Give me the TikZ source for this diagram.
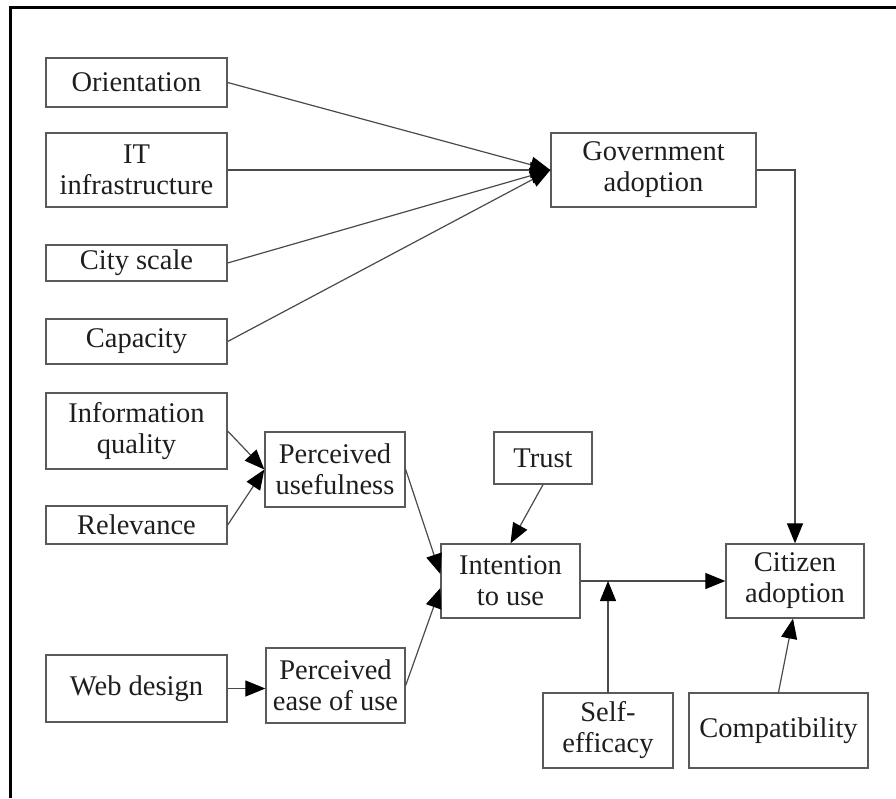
\documentclass[tikz,border=0pt]{standalone}
\usepackage{fontspec}
\setmainfont{Liberation Serif}
\usetikzlibrary{arrows.meta}
\definecolor{boxline}{HTML}{5A5A5A}
\definecolor{linkline}{HTML}{4A4A4A}
\definecolor{ink}{HTML}{1E1E1E}
\begin{document}
\begin{tikzpicture}[x=1pt,y=-1pt,
  box/.style={draw=boxline,line width=1.3pt,rectangle,inner sep=0pt,align=center,
    text=ink,font=\fontsize{28.5}{31}\selectfont},
  link/.style={draw=linkline,line width=1.2pt,
    -{Triangle[length=20pt,width=16pt,color=black]}},
  plain/.style={draw=linkline,line width=1.2pt}]
\useasboundingbox (0,0) rectangle (896,798);
% outer frame (top and left edges)
\draw[line width=3pt] (10,798) -- (10,7) -- (896,7);

% government-side factors
\node[box,minimum width=181pt,minimum height=49pt] (ori) at (136.5,82.5) {Orientation};
\node[box,minimum width=181pt,minimum height=74pt] (itinf) at (136.5,170) {IT\\infrastructure};
\node[box,minimum width=181pt,minimum height=36pt] (city) at (136.5,263) {City scale};
\node[box,minimum width=181pt,minimum height=45pt] (cap) at (136.5,341.5) {Capacity};
\node[box,minimum width=205pt,minimum height=74pt] (gov) at (653.5,170) {Government\\adoption};

% citizen-side factors
\node[box,minimum width=181pt,minimum height=76pt] (iq) at (136.5,431) {Information\\quality};
\node[box,minimum width=181pt,minimum height=38pt] (rel) at (136.5,525) {Relevance};
\node[box,minimum width=140pt,minimum height=75pt] (pu) at (335,469.5) {Perceived\\usefulness};
\node[box,minimum width=181pt,minimum height=67pt] (web) at (136.5,688.5) {Web design};
\node[box,minimum width=139pt,minimum height=75pt] (peu) at (335.5,685.5) {Perceived\\ease of use};
\node[box,minimum width=139pt,minimum height=74pt] (int) at (510.5,581) {Intention\\to use};
\node[box,minimum width=98pt,minimum height=52pt] (trust) at (543,458) {Trust};
\node[box,minimum width=138pt,minimum height=74pt] (cit) at (795,581) {Citizen\\adoption};
\node[box,minimum width=130pt,minimum height=75pt] (self) at (608,730.5) {Self-\\efficacy};
\node[box,minimum width=179pt,minimum height=75pt] (comp) at (778.5,730.5) {Compatibility};

% connectors
\draw[link] (ori.east) -- (gov.west);
\draw[link] (itinf.east) -- (gov.west);
\draw[link] (city.east) -- (gov.west);
\draw[link] (cap.east) -- (gov.west);
\draw[link] (gov.east) -| (cit.north);

\draw[link] (iq.east) -- (pu.west);
\draw[link] (rel.east) -- (pu.west);
\draw[link] (web.east) -- (web.east -| peu.west);
\draw[link] (pu.east) -- ([yshift=7pt]int.west);
\draw[link] (peu.east) -- ([yshift=-7pt]int.west);
\draw[link] (trust.south) -- (int.north);
\draw[link] (int.east) -- (cit.west);
\coordinate (moderate) at (self.north |- int.east);
\draw[link] (self.north) -- (moderate);
\draw[link] (comp.north) -- ([xshift=-2pt]cit.south);
\end{tikzpicture}
\end{document}
